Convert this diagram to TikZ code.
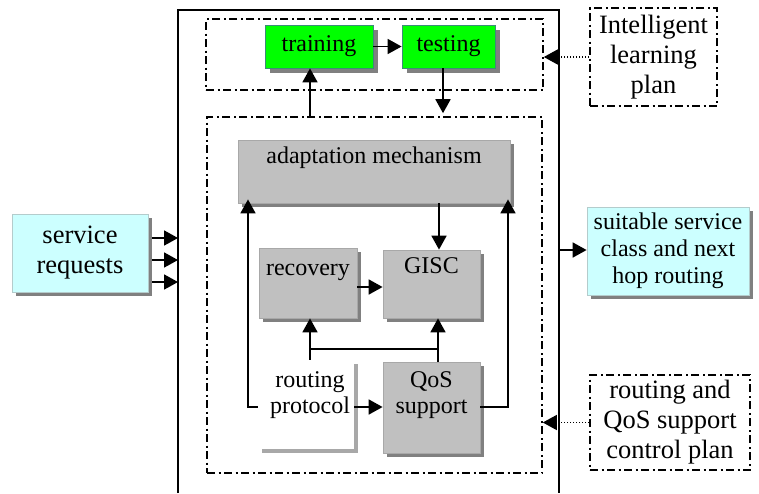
\documentclass[tikz,border=0pt]{standalone}
\usepackage{fontspec}
\setmainfont{Liberation Serif}
\usetikzlibrary{arrows.meta,shadows}
\definecolor{boxgreen}{HTML}{00FF00}
\definecolor{greenedge}{HTML}{3C8C78}
\definecolor{panelgray}{HTML}{C0C0C0}
\definecolor{paneledge}{HTML}{A8A8A8}
\definecolor{shadegray}{HTML}{808080}
\definecolor{lightcyan}{HTML}{CCFFFF}
\definecolor{cyanedge}{HTML}{B4CCCC}
\tikzset{
  txt/.style={font=\fontsize{24}{26}\selectfont, inner sep=0pt},
  bigtxt/.style={font=\fontsize{26.5}{30}\selectfont, inner sep=0pt},
  zone/.style={draw, line width=1.6pt, dash pattern=on 8pt off 3.5pt on 2pt off 3.5pt, inner sep=0pt},
  planbox/.style={zone, align=center, bigtxt},
  greenbox/.style={txt, draw=greenedge, line width=0.8pt, fill=boxgreen,
    drop shadow={shadow xshift=5pt, shadow yshift=-5pt, fill=shadegray, opacity=1}},
  cyanbox/.style={draw=cyanedge, line width=0.8pt, fill=lightcyan, align=center,
    drop shadow={shadow xshift=3.5pt, shadow yshift=-3.5pt, fill=shadegray, opacity=1}},
  graybox/.style={draw=paneledge, line width=0.8pt, fill=panelgray, inner sep=0pt,
    drop shadow={shadow xshift=4pt, shadow yshift=-4pt, fill=shadegray, opacity=1}},
  whitebox/.style={fill=white, inner sep=0pt,
    drop shadow={shadow xshift=4pt, shadow yshift=-4pt, fill=paneledge, opacity=1}},
  link/.style={line width=1.8pt, -{Triangle[length=14pt,width=15pt]}},
  hint/.style={line width=1.4pt, dash pattern=on 1.3pt off 1.7pt, -{Triangle[length=14pt,width=15pt]}},
}
\begin{document}
\begin{tikzpicture}[x=1pt, y=-1pt]
\useasboundingbox (0,0) rectangle (759,493);
\fill[white] (0,0) rectangle (759,493);

% system frame (open at the bottom)
\coordinate (frameBL) at (178,493);
\coordinate (frameTL) at (178,10);
\coordinate (frameTR) at (559,10);
\coordinate (frameBR) at (559,493);
\draw[line width=1.8pt] (frameBL) -- (frameTL) -- (frameTR) -- (frameBR);

% the two planes
\node[zone, minimum width=337pt, minimum height=71pt] (learnzone) at (374.5,54.5) {};
\node[zone, minimum width=335pt, minimum height=356pt] (ctrlzone) at (374.5,295) {};

% learning plane
\node[greenbox, minimum width=108pt, minimum height=43pt] (train) at (319,46.5) {training};
\node[greenbox, minimum width=93pt, minimum height=43pt] (test) at (448.5,46.5) {testing};
\draw[link] (train.east) -- (test.west);
\coordinate (trainIn) at ([xshift=-9pt]train.south);
\coordinate (testOut) at ([xshift=-5.5pt]test.south);
\draw[link] (trainIn |- ctrlzone.north) -- (trainIn);
\draw[link, shorten >=3pt] (testOut) -- (testOut |- ctrlzone.north);

% side labels
\node[planbox, minimum width=127pt, minimum height=98pt] (intel) at (653.5,57) {Intelligent\\learning\\plan};
\draw[hint] (intel.west) -- (intel.west -| learnzone.east);
\node[planbox, minimum width=160pt, minimum height=95pt] (ctrl) at (670,422.5) {routing and\\QoS support\\control plan};
\draw[hint] (ctrl.west) -- (ctrl.west -| ctrlzone.east);

% input and output
\node[cyanbox, bigtxt, minimum width=136pt, minimum height=78pt] (req) at (80,253) {service\\requests};
\coordinate (inA) at (178,238);
\coordinate (inB) at (178,260);
\coordinate (inC) at (178,282);
\draw[link] ([xshift=4pt]req.east |- inA) -- (inA);
\draw[link] ([xshift=4pt]req.east |- inB) -- (inB);
\draw[link] ([xshift=4pt]req.east |- inC) -- (inC);
\node[cyanbox, txt, font=\fontsize{24}{27}\selectfont, minimum width=162pt, minimum height=88pt] (suit) at (668,251) {suitable service\\class and next\\hop routing};
\coordinate (outA) at (559,250);
\draw[link] (outA) -- (outA -| suit.west);

% control plane
\node[graybox, minimum width=272pt, minimum height=63pt] (adapt) at (374,171.5) {};
\node[txt, anchor=base] (adaptT) at (374,163) {adaptation mechanism};
\node[graybox, minimum width=98pt, minimum height=70pt] (rec) at (308,283) {};
\node[txt, anchor=base] (recT) at (308,275) {recovery};
\node[graybox, minimum width=97pt, minimum height=68pt] (gisc) at (431.5,284) {};
\node[txt, anchor=base] (giscT) at (431.5,273) {GISC};
\node[graybox, minimum width=97pt, minimum height=91pt] (qos) at (431.5,407.5) {};
\node[txt, align=center] (qosT) at (431.5,395) {QoS\\support};
\node[whitebox, minimum width=96pt, minimum height=89pt] (rp) at (306,404.5) {};
\node[txt, align=center] (rpT) at (310,395) {routing\\protocol};

% control plane connectors
\coordinate (loopL) at (248,407);
\coordinate (loopR) at (508,407);
\draw[link, shorten >=-4pt] (loopL -| rp.west) -- (loopL) -- (loopL |- adapt.south);
\draw[link, shorten >=-4pt] (loopR -| qos.east) -- (loopR) -- (loopR |- adapt.south);
\draw[link] (rp.east |- loopL) -- (qos.west |- loopL);
\coordinate (adaptOut) at (439,203);
\draw[link] (adaptOut |- adapt.south) -- (adaptOut |- gisc.north);
\coordinate (recRow) at (357,287);
\draw[link] (rec.east |- recRow) -- (gisc.west |- recRow);
\coordinate (splitL) at (310,349);
\coordinate (splitR) at (438,349);
\draw[link] (splitL |- rp.north) -- (splitL |- rec.south);
\draw[link] (splitR |- qos.north) -- (splitR |- gisc.south);
\draw[line width=1.8pt] (splitL) -- (splitR);
\end{tikzpicture}
\end{document}
